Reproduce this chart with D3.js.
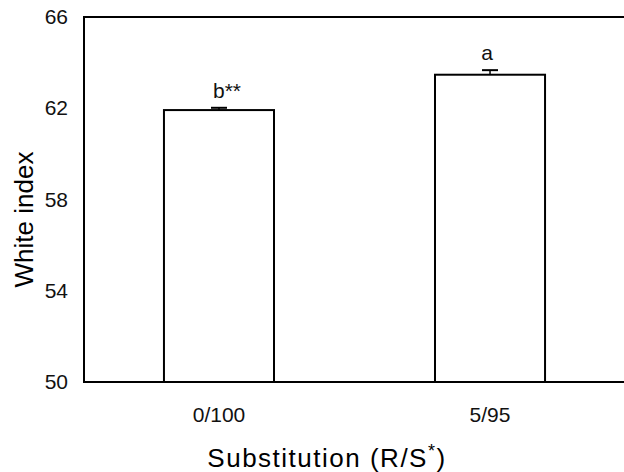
<!DOCTYPE html>
<html>
<head>
<meta charset="utf-8">
<script src="https://cdn.jsdelivr.net/npm/d3@7"></script>
<style>
  body { margin: 0; background: #fff; }
  svg { display: block; font-family: "Liberation Sans", Arial, sans-serif; }
</style>
</head>
<body>
<div id="chart"></div>
<script>
// data
const categories = ["0/100", "5/95"]
const values = [61.92, 63.47]
const errors = [0.1, 0.2]
const letters = ["b**", "a"]
const yTicks = [50, 54, 58, 62, 66]

var width = 624, height = 472
var margin = { top: 17, right: -1, bottom: 90, left: 84 }

const svg = d3.select("#chart").append("svg")
    .attr("width", width)
    .attr("height", height)

var x = d3.scaleBand()
    .domain(categories)
    .range([margin.left, width - margin.right])
    .paddingInner(0.594)
    .paddingOuter(0.295)

var y = d3.scaleLinear()
    .domain([50, 66])
    .range([height - margin.bottom, margin.top])

// y axis labels only (no tick marks)
const yAxis = svg.append("g")
    .attr("transform", "translate(" + margin.left + ",0)")
    .call(d3.axisLeft(y).tickValues(yTicks).tickSize(0).tickPadding(16))
yAxis.select(".domain").remove()
yAxis.selectAll("text").style("font-size", "21px").attr("fill", "#111")

// x axis labels
const xAxis = svg.append("g")
    .attr("transform", "translate(0," + y(50) + ")")
    .call(d3.axisBottom(x).tickSize(0).tickPadding(25))
xAxis.select(".domain").remove()
xAxis.selectAll("text").style("font-size", "21px").attr("fill", "#111")

// frame: top, left, bottom
svg.append("path")
    .attr("d", "M" + (width + 2) + "," + y(66) + "H" + margin.left + "V" + y(50) + "H" + (width + 2))
    .attr("fill", "none")
    .attr("stroke", "#000")
    .attr("stroke-width", 2)

// bars
svg.selectAll("rect.bar")
    .data(values)
    .enter()
    .append("rect")
    .attr("class", "bar")
    .attr("x", (d, i) => x(categories[i]))
    .attr("y", d => y(d))
    .attr("width", x.bandwidth())
    .attr("height", d => y(50) - y(d))
    .attr("fill", "#fff")
    .attr("stroke", "#000")
    .attr("stroke-width", 2)

// error bars (upper only)
values.forEach((v, i) => {
    const cx = x(categories[i]) + x.bandwidth() / 2
    svg.append("line")
        .attr("x1", cx).attr("x2", cx)
        .attr("y1", y(v)).attr("y2", y(v + errors[i]))
        .attr("stroke", "#000").attr("stroke-width", 1.5)
    svg.append("line")
        .attr("x1", cx - 8).attr("x2", cx + 8)
        .attr("y1", y(v + errors[i])).attr("y2", y(v + errors[i]))
        .attr("stroke", "#000").attr("stroke-width", 2)
})

// significance letters
svg.selectAll("text.letter")
    .data(letters)
    .enter()
    .append("text")
    .attr("class", "letter")
    .attr("x", (d, i) => x(categories[i]) + x.bandwidth() / 2 + (i == 0 ? -6 : -3))
    .attr("y", (d, i) => y(values[i] + errors[i]) - 10)
    .attr("text-anchor", (d, i) => i == 0 ? "start" : "middle")
    .style("font-size", "21px")
    .attr("fill", "#111")
    .text(d => d)

// axis titles
svg.append("text")
    .attr("transform", "translate(33," + ((y(50) + y(66)) / 2 + 20) + ") rotate(-90)")
    .attr("text-anchor", "middle")
    .style("font-size", "26px")
    .text("White index")

const xt = svg.append("text")
    .attr("x", 327)
    .attr("y", 467)
    .attr("text-anchor", "middle")
    .style("font-size", "26px")
    .style("letter-spacing", "1.5px")
xt.append("tspan").text("Substitution (R/S")
xt.append("tspan").attr("dy", -10).style("font-size", "18px").text("*")
xt.append("tspan").attr("dy", 10).text(")")
</script>
</body>
</html>
